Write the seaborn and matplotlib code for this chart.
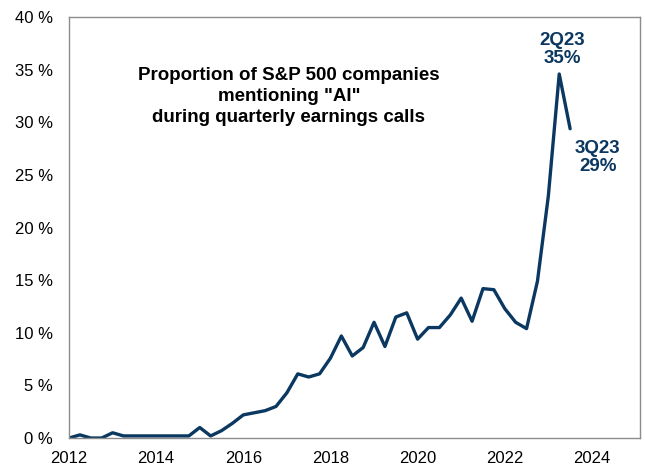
import numpy as np
import pandas as pd
import matplotlib
matplotlib.use("Agg")
import matplotlib.pyplot as plt
import seaborn as sns

# quarterly share of S&P 500 companies mentioning "AI" (%), 1Q12 .. 3Q23
share = [0.0, 0.3, 0.0, 0.0,
         0.5, 0.2, 0.2, 0.2,
         0.2, 0.2, 0.2, 0.2,
         1.0, 0.2, 0.7, 1.4,
         2.2, 2.4, 2.6, 3.0,
         4.3, 6.1, 5.8, 6.1,
         7.6, 9.7, 7.8, 8.6,
         11.0, 8.7, 11.5, 11.9,
         9.4, 10.5, 10.5, 11.7,
         13.3, 11.1, 14.2, 14.1,
         12.3, 11.0, 10.4, 14.9,
         23.0, 34.6, 29.4]
years = 2012 + np.arange(len(share)) / 4
yticks = [0, 5, 10, 15, 20, 25, 30, 35, 40]
xticks = [2012, 2014, 2016, 2018, 2020, 2022, 2024]

df = pd.DataFrame({"year": years, "share": share})

sns.set_style("white")
plt.rcParams["font.family"] = ["Liberation Sans", "DejaVu Sans"]

navy = "#0b3860"
fig, ax = plt.subplots(figsize=(6.45, 4.65), dpi=100)
fig.subplots_adjust(left=0.107, right=0.992, top=0.963, bottom=0.058)

sns.lineplot(data=df, x="year", y="share", color=navy, linewidth=2.4, ax=ax)

ax.set_xlim(2012, 2025.1)
ax.set_ylim(0, 40)
ax.set_xticks(xticks)
ax.set_yticks(yticks)
ax.set_yticklabels([f"{v} %" for v in yticks])
ax.tick_params(axis="both", labelsize=12, length=0, colors="black")
ax.tick_params(axis="y", pad=11.5)
ax.tick_params(axis="x", pad=9.5)
ax.set_xlabel("")
ax.set_ylabel("")
for s in ax.spines.values():
    s.set_color("#8c8c8c")
    s.set_linewidth(1.0)

ax.text(0.385, 0.812, 'Proportion of S&P 500 companies\nmentioning "AI"\nduring quarterly earnings calls',
        transform=ax.transAxes, ha="center", va="center", fontsize=13.5,
        fontweight="bold", color="black", linespacing=1.3)

ax.annotate(f"2Q23\n{share[45]:.0f}%", xy=(years[45], share[45]), xytext=(2, 5),
            textcoords="offset points", ha="center", va="bottom",
            fontsize=13.5, fontweight="bold", color=navy, linespacing=1.1)
ax.annotate(f"3Q23\n{share[46]:.0f}%", xy=(years[46], share[46]), xytext=(20, -8),
            textcoords="offset points", ha="center", va="top",
            fontsize=13.5, fontweight="bold", color=navy, linespacing=1.1)

fig.savefig("out.png", dpi=100)
